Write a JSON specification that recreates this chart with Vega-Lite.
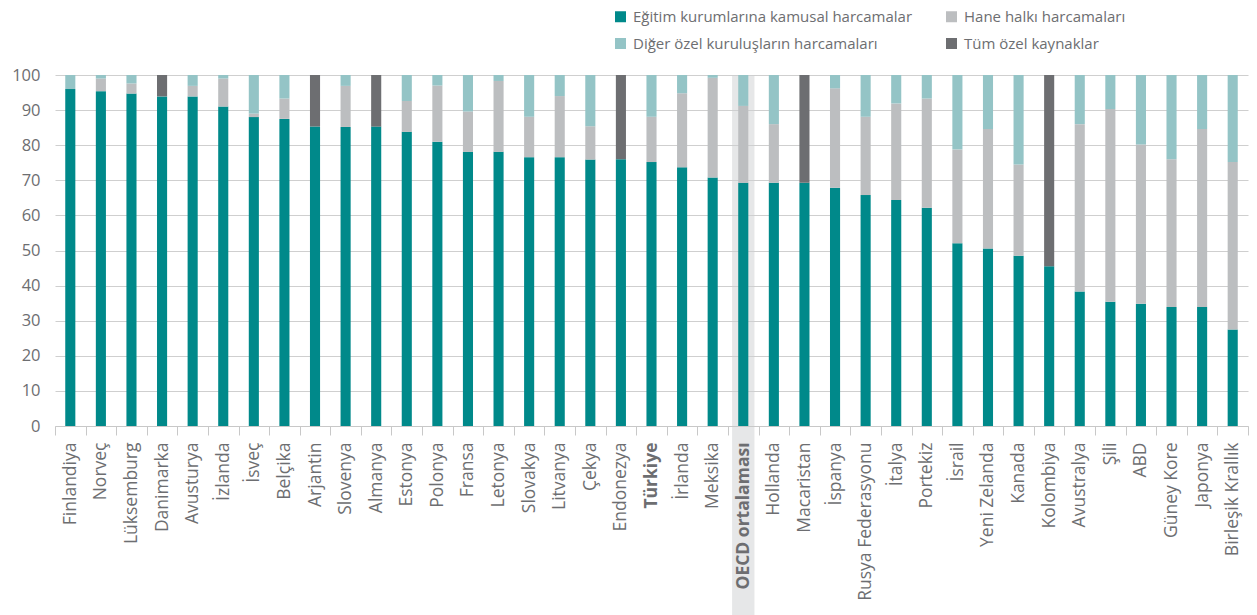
{
  "$schema": "https://vega.github.io/schema/vega-lite/v6.json",
  "autosize": {"type": "none"},
  "padding": {"left": 55, "top": 75, "right": 9, "bottom": 189},
  "width": 1193,
  "height": 351,
  "background": "white",
  "config": {"font": "Open Sans", "view": {"stroke": null}},
  "data": {"values": [
    {"country": "Finlandiya", "Eğitim kurumlarına kamusal harcamalar": 96.0, "Hane halkı harcamaları": 0, "Diğer özel kuruluşların harcamaları": 4.0, "Tüm özel kaynaklar": 0},
    {"country": "Norveç", "Eğitim kurumlarına kamusal harcamalar": 95.4, "Hane halkı harcamaları": 3.6, "Diğer özel kuruluşların harcamaları": 1.0, "Tüm özel kaynaklar": 0},
    {"country": "Lüksemburg", "Eğitim kurumlarına kamusal harcamalar": 94.7, "Hane halkı harcamaları": 2.9, "Diğer özel kuruluşların harcamaları": 2.4, "Tüm özel kaynaklar": 0},
    {"country": "Danimarka", "Eğitim kurumlarına kamusal harcamalar": 93.9, "Hane halkı harcamaları": 0, "Diğer özel kuruluşların harcamaları": 0, "Tüm özel kaynaklar": 6.1},
    {"country": "Avusturya", "Eğitim kurumlarına kamusal harcamalar": 93.9, "Hane halkı harcamaları": 3.0, "Diğer özel kuruluşların harcamaları": 3.1, "Tüm özel kaynaklar": 0},
    {"country": "İzlanda", "Eğitim kurumlarına kamusal harcamalar": 91.0, "Hane halkı harcamaları": 8.0, "Diğer özel kuruluşların harcamaları": 1.0, "Tüm özel kaynaklar": 0},
    {"country": "İsveç", "Eğitim kurumlarına kamusal harcamalar": 88.0, "Hane halkı harcamaları": 1.0, "Diğer özel kuruluşların harcamaları": 11.0, "Tüm özel kaynaklar": 0},
    {"country": "Belçika", "Eğitim kurumlarına kamusal harcamalar": 87.5, "Hane halkı harcamaları": 5.8, "Diğer özel kuruluşların harcamaları": 6.7, "Tüm özel kaynaklar": 0},
    {"country": "Arjantin", "Eğitim kurumlarına kamusal harcamalar": 85.3, "Hane halkı harcamaları": 0, "Diğer özel kuruluşların harcamaları": 0, "Tüm özel kaynaklar": 14.7},
    {"country": "Slovenya", "Eğitim kurumlarına kamusal harcamalar": 85.2, "Hane halkı harcamaları": 11.7, "Diğer özel kuruluşların harcamaları": 3.1, "Tüm özel kaynaklar": 0},
    {"country": "Almanya", "Eğitim kurumlarına kamusal harcamalar": 85.3, "Hane halkı harcamaları": 0, "Diğer özel kuruluşların harcamaları": 0, "Tüm özel kaynaklar": 14.7},
    {"country": "Estonya", "Eğitim kurumlarına kamusal harcamalar": 83.8, "Hane halkı harcamaları": 8.8, "Diğer özel kuruluşların harcamaları": 7.4, "Tüm özel kaynaklar": 0},
    {"country": "Polonya", "Eğitim kurumlarına kamusal harcamalar": 81.0, "Hane halkı harcamaları": 16.0, "Diğer özel kuruluşların harcamaları": 3.0, "Tüm özel kaynaklar": 0},
    {"country": "Fransa", "Eğitim kurumlarına kamusal harcamalar": 78.1, "Hane halkı harcamaları": 11.5, "Diğer özel kuruluşların harcamaları": 10.4, "Tüm özel kaynaklar": 0},
    {"country": "Letonya", "Eğitim kurumlarına kamusal harcamalar": 78.1, "Hane halkı harcamaları": 20.2, "Diğer özel kuruluşların harcamaları": 1.7, "Tüm özel kaynaklar": 0},
    {"country": "Slovakya", "Eğitim kurumlarına kamusal harcamalar": 76.6, "Hane halkı harcamaları": 11.5, "Diğer özel kuruluşların harcamaları": 11.9, "Tüm özel kaynaklar": 0},
    {"country": "Litvanya", "Eğitim kurumlarına kamusal harcamalar": 76.6, "Hane halkı harcamaları": 17.4, "Diğer özel kuruluşların harcamaları": 6.0, "Tüm özel kaynaklar": 0},
    {"country": "Çekya", "Eğitim kurumlarına kamusal harcamalar": 75.9, "Hane halkı harcamaları": 9.5, "Diğer özel kuruluşların harcamaları": 14.6, "Tüm özel kaynaklar": 0},
    {"country": "Endonezya", "Eğitim kurumlarına kamusal harcamalar": 76.0, "Hane halkı harcamaları": 0, "Diğer özel kuruluşların harcamaları": 0, "Tüm özel kaynaklar": 24.0},
    {"country": "Türkiye", "Eğitim kurumlarına kamusal harcamalar": 75.2, "Hane halkı harcamaları": 12.9, "Diğer özel kuruluşların harcamaları": 11.9, "Tüm özel kaynaklar": 0},
    {"country": "İrlanda", "Eğitim kurumlarına kamusal harcamalar": 73.7, "Hane halkı harcamaları": 21.1, "Diğer özel kuruluşların harcamaları": 5.2, "Tüm özel kaynaklar": 0},
    {"country": "Meksika", "Eğitim kurumlarına kamusal harcamalar": 70.8, "Hane halkı harcamaları": 28.4, "Diğer özel kuruluşların harcamaları": 0.8, "Tüm özel kaynaklar": 0},
    {"country": "OECD ortalaması", "Eğitim kurumlarına kamusal harcamalar": 69.3, "Hane halkı harcamaları": 21.9, "Diğer özel kuruluşların harcamaları": 8.8, "Tüm özel kaynaklar": 0},
    {"country": "Hollanda", "Eğitim kurumlarına kamusal harcamalar": 69.3, "Hane halkı harcamaları": 16.7, "Diğer özel kuruluşların harcamaları": 14.0, "Tüm özel kaynaklar": 0},
    {"country": "Macaristan", "Eğitim kurumlarına kamusal harcamalar": 69.3, "Hane halkı harcamaları": 0, "Diğer özel kuruluşların harcamaları": 0, "Tüm özel kaynaklar": 30.7},
    {"country": "İspanya", "Eğitim kurumlarına kamusal harcamalar": 67.9, "Hane halkı harcamaları": 28.3, "Diğer özel kuruluşların harcamaları": 3.8, "Tüm özel kaynaklar": 0},
    {"country": "Rusya Federasyonu", "Eğitim kurumlarına kamusal harcamalar": 65.8, "Hane halkı harcamaları": 22.3, "Diğer özel kuruluşların harcamaları": 11.9, "Tüm özel kaynaklar": 0},
    {"country": "İtalya", "Eğitim kurumlarına kamusal harcamalar": 64.4, "Hane halkı harcamaları": 27.5, "Diğer özel kuruluşların harcamaları": 8.1, "Tüm özel kaynaklar": 0},
    {"country": "Portekiz", "Eğitim kurumlarına kamusal harcamalar": 62.2, "Hane halkı harcamaları": 31.1, "Diğer özel kuruluşların harcamaları": 6.7, "Tüm özel kaynaklar": 0},
    {"country": "İsrail", "Eğitim kurumlarına kamusal harcamalar": 52.1, "Hane halkı harcamaları": 26.7, "Diğer özel kuruluşların harcamaları": 21.2, "Tüm özel kaynaklar": 0},
    {"country": "Yeni Zelanda", "Eğitim kurumlarına kamusal harcamalar": 50.6, "Hane halkı harcamaları": 34.0, "Diğer özel kuruluşların harcamaları": 15.4, "Tüm özel kaynaklar": 0},
    {"country": "Kanada", "Eğitim kurumlarına kamusal harcamalar": 48.5, "Hane halkı harcamaları": 26.0, "Diğer özel kuruluşların harcamaları": 25.5, "Tüm özel kaynaklar": 0},
    {"country": "Kolombiya", "Eğitim kurumlarına kamusal harcamalar": 45.5, "Hane halkı harcamaları": 0, "Diğer özel kuruluşların harcamaları": 0, "Tüm özel kaynaklar": 54.5},
    {"country": "Avustralya", "Eğitim kurumlarına kamusal harcamalar": 38.3, "Hane halkı harcamaları": 47.7, "Diğer özel kuruluşların harcamaları": 14.0, "Tüm özel kaynaklar": 0},
    {"country": "Şili", "Eğitim kurumlarına kamusal harcamalar": 35.4, "Hane halkı harcamaları": 54.9, "Diğer özel kuruluşların harcamaları": 9.7, "Tüm özel kaynaklar": 0},
    {"country": "ABD", "Eğitim kurumlarına kamusal harcamalar": 34.8, "Hane halkı harcamaları": 45.4, "Diğer özel kuruluşların harcamaları": 19.8, "Tüm özel kaynaklar": 0},
    {"country": "Güney Kore", "Eğitim kurumlarına kamusal harcamalar": 33.9, "Hane halkı harcamaları": 42.1, "Diğer özel kuruluşların harcamaları": 24.0, "Tüm özel kaynaklar": 0},
    {"country": "Japonya", "Eğitim kurumlarına kamusal harcamalar": 33.9, "Hane halkı harcamaları": 50.7, "Diğer özel kuruluşların harcamaları": 15.4, "Tüm özel kaynaklar": 0},
    {"country": "Birleşik Krallık", "Eğitim kurumlarına kamusal harcamalar": 27.5, "Hane halkı harcamaları": 47.7, "Diğer özel kuruluşların harcamaları": 24.8, "Tüm özel kaynaklar": 0}
  ]},
  "encoding": {
    "x": {
      "field": "country", "type": "nominal", "sort": null,
      "scale": {"paddingInner": 0, "paddingOuter": 0},
      "axis": {
        "title": null, "labelAngle": -90, "tickBand": "extent", "tickSize": 9,
        "tickColor": "#C8C8C8", "domainColor": "#C8C8C8", "labelPadding": 7,
        "labelFontSize": 17.5, "labelColor": "#6D6E71", "zindex": 1,
        "labelFontWeight": {"condition": {"test": "datum.value === 'Türkiye' || datum.value === 'OECD ortalaması'", "value": "bold"}, "value": "normal"}
      }
    }
  },
  "layer": [
    {
      "mark": {"type": "rect", "width": {"band": 0.73}, "color": "#CDCFD1"},
      "encoding": {
        "y": {
          "datum": 100, "type": "quantitative", "scale": {"domain": [0, 100], "nice": false},
          "axis": {
            "title": null, "values": [0, 10, 20, 30, 40, 50, 60, 70, 80, 90, 100], "labelOverlap": false,
            "grid": true, "gridColor": "#CFCFCF", "gridWidth": 1.2, "domain": false, "ticks": false,
            "labelPadding": 15, "labelFontSize": 16.5, "labelColor": "#6D6E71"
          }
        },
        "y2": {"datum": -54.5},
        "opacity": {"condition": {"test": "datum.country === 'OECD ortalaması'", "value": 0.5}, "value": 0}
      }
    },
    {
      "transform": [
        {"fold": ["Eğitim kurumlarına kamusal harcamalar", "Hane halkı harcamaları", "Diğer özel kuruluşların harcamaları", "Tüm özel kaynaklar"], "as": ["kategori", "deger"]},
        {"calculate": "indexof(['Eğitim kurumlarına kamusal harcamalar', 'Hane halkı harcamaları', 'Diğer özel kuruluşların harcamaları', 'Tüm özel kaynaklar'], datum.kategori)", "as": "sira"}
      ],
      "mark": {"type": "bar", "width": {"band": 0.33}},
      "encoding": {
        "y": {
          "field": "deger", "type": "quantitative", "stack": "zero",
          "scale": {"domain": [0, 100], "nice": false},
          "axis": {
            "title": null, "values": [0, 10, 20, 30, 40, 50, 60, 70, 80, 90, 100], "labelOverlap": false,
            "grid": true, "gridColor": "#CFCFCF", "gridWidth": 1.2, "domain": false, "ticks": false,
            "labelPadding": 15, "labelFontSize": 16.5, "labelColor": "#6D6E71"
          }
        },
        "order": {"field": "sira", "type": "quantitative", "sort": "ascending"},
        "color": {
          "field": "kategori", "type": "nominal",
          "scale": {
            "domain": ["Eğitim kurumlarına kamusal harcamalar", "Diğer özel kuruluşların harcamaları", "Hane halkı harcamaları", "Tüm özel kaynaklar"],
            "range": ["#00898A", "#94C4C6", "#BCBEC0", "#6D6E71"]
          },
          "legend": {
            "title": null, "orient": "none", "legendX": 558, "legendY": -66, "columns": 2,
            "columnPadding": 31, "rowPadding": 11, "symbolType": "square", "symbolSize": 121,
            "symbolStrokeWidth": 0, "labelFontSize": 15, "labelColor": "#6D6E71", "labelOffset": 5,
            "labelLimit": 0
          }
        }
      }
    }
  ]
}
